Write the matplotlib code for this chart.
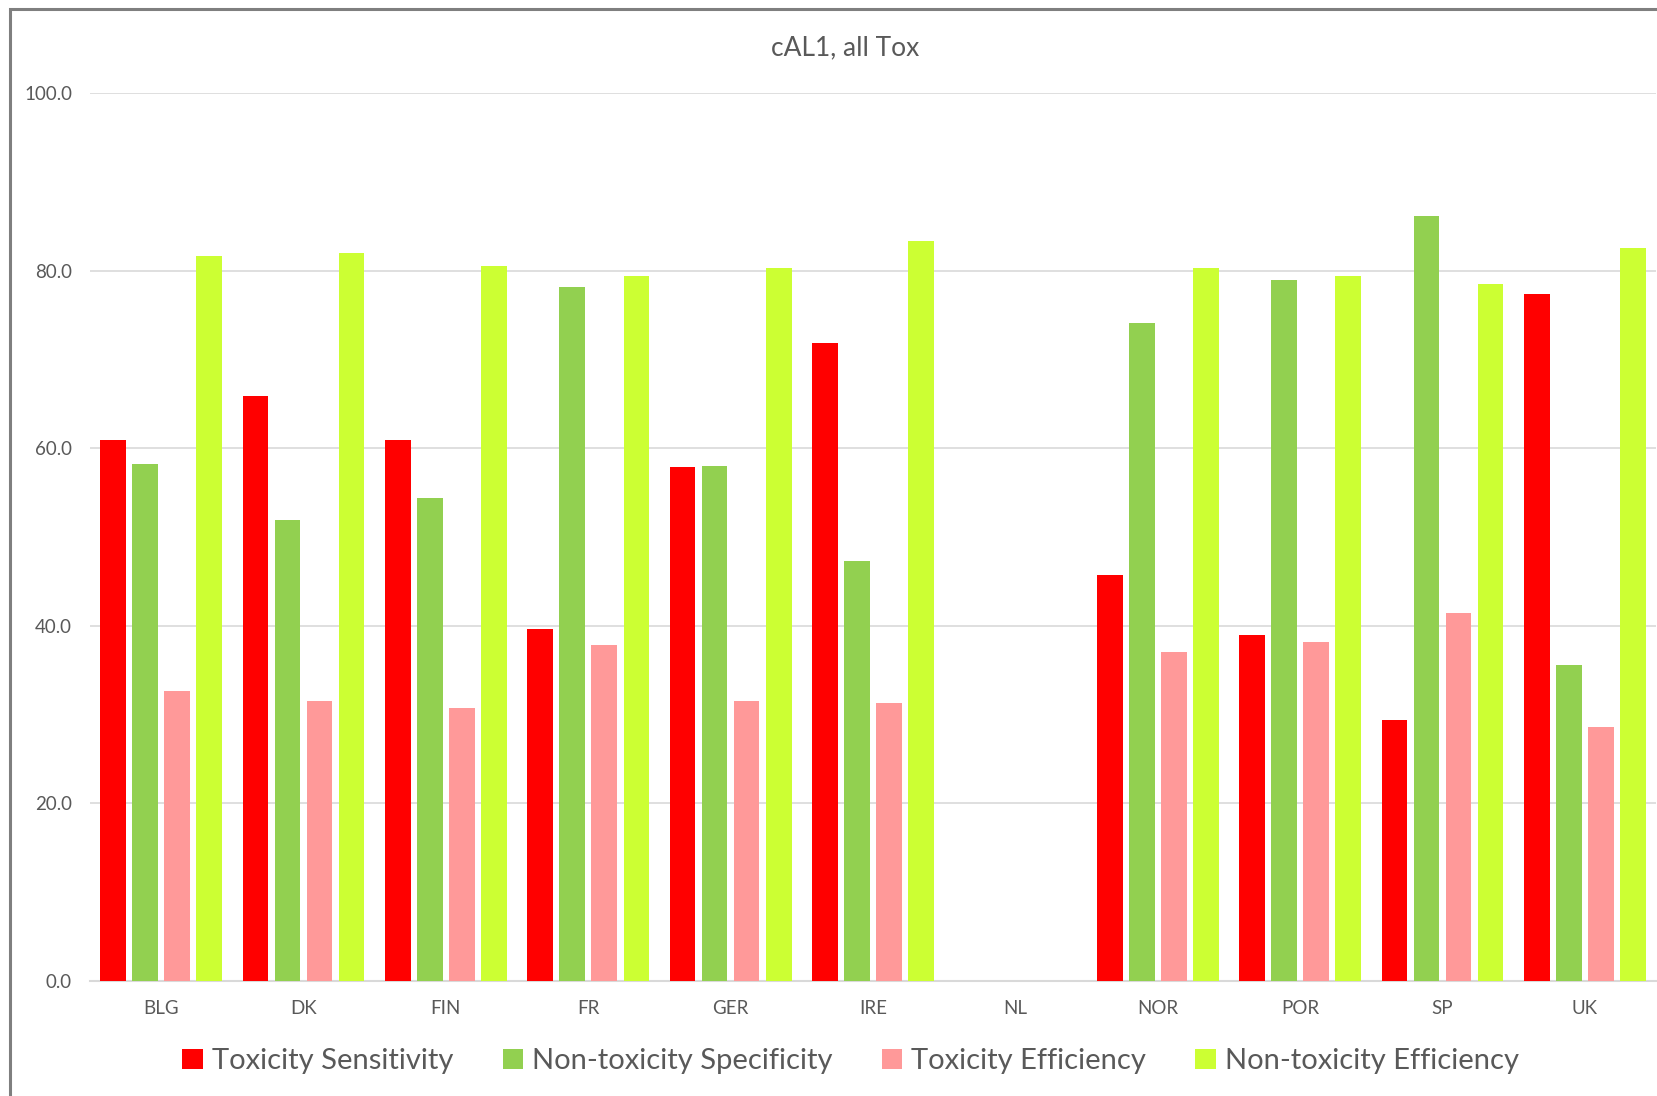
import numpy as np
import matplotlib
matplotlib.use("Agg")
import matplotlib.pyplot as plt
from matplotlib import font_manager
from matplotlib.patches import Rectangle

# --- data ---
countries = ["BLG", "DK", "FIN", "FR", "GER", "IRE", "NL", "NOR", "POR", "SP", "UK"]
tox_sensitivity = [60.9, 65.9, 60.9, 39.7, 57.9, 71.8, np.nan, 45.7, 39.0, 29.4, 77.4]
nontox_specificity = [58.2, 51.9, 54.4, 78.2, 58.0, 47.3, np.nan, 74.1, 78.9, 86.1, 35.6]
tox_efficiency = [32.7, 31.5, 30.8, 37.8, 31.5, 31.3, np.nan, 37.1, 38.2, 41.5, 28.6]
nontox_efficiency = [81.6, 82.0, 80.5, 79.4, 80.3, 83.3, np.nan, 80.3, 79.4, 78.5, 82.5]

series = [
    ("Toxicity Sensitivity", tox_sensitivity, "#FF0000"),
    ("Non-toxicity Specificity", nontox_specificity, "#92D050"),
    ("Toxicity Efficiency", tox_efficiency, "#FF9999"),
    ("Non-toxicity Efficiency", nontox_efficiency, "#CCFF33"),
]

# pick a narrow sans if one is around
installed = {f.name for f in font_manager.fontManager.ttflist}
family = "Liberation Sans Narrow" if "Liberation Sans Narrow" in installed else "Lato"
plt.rcParams["font.family"] = [family, "DejaVu Sans"]

text_col = "#595959"
grid_col = "#D9D9D9"

fig = plt.figure(figsize=(16.58, 10.96), dpi=100)
ax = fig.add_axes([0.0543, 0.1049, 0.9445, 0.8102])

x = np.arange(len(countries))
step = 0.225
width = 0.18
for i, (name, vals, col) in enumerate(series):
    ax.bar(x + (i - 1.5) * step, vals, width=width, color=col, label=name, zorder=3)

ax.set_xlim(-0.5, len(countries) - 0.5)
ax.set_ylim(0, 100)
ax.set_yticks(np.arange(0, 101, 20))
ax.set_yticklabels([f"{v:.1f}" for v in np.arange(0, 101, 20)])
ax.set_xticks(x)
ax.set_xticklabels(countries)
ax.tick_params(axis="both", length=0, colors=text_col, labelsize=13.5)
ax.tick_params(axis="y", pad=13)
ax.tick_params(axis="x", pad=14)

ax.yaxis.grid(True, color=grid_col, linewidth=1.2, zorder=0)
for s in ["top", "right", "left"]:
    ax.spines[s].set_visible(False)
ax.spines["bottom"].set_color(grid_col)
ax.spines["bottom"].set_linewidth(1.5)

fig.text(0.5097, 0.956, "cAL1, all Tox", ha="center", va="center",
         fontsize=19, color=text_col)

leg = fig.legend(loc="center", bbox_to_anchor=(0.513, 0.032), ncol=4,
                 frameon=False, fontsize=21, handlelength=0.7, handleheight=0.7,
                 handletextpad=0.3, columnspacing=1.7)
for t in leg.get_texts():
    t.set_color(text_col)

# outer chart border
fig.patches.append(Rectangle((10 / 1658, -0.1), 1.2, 1.1 - 9 / 1096,
                             transform=fig.transFigure, fill=False,
                             edgecolor="#7F7F7F", linewidth=2.2))

fig.savefig("out.png", dpi=100, facecolor="white")
